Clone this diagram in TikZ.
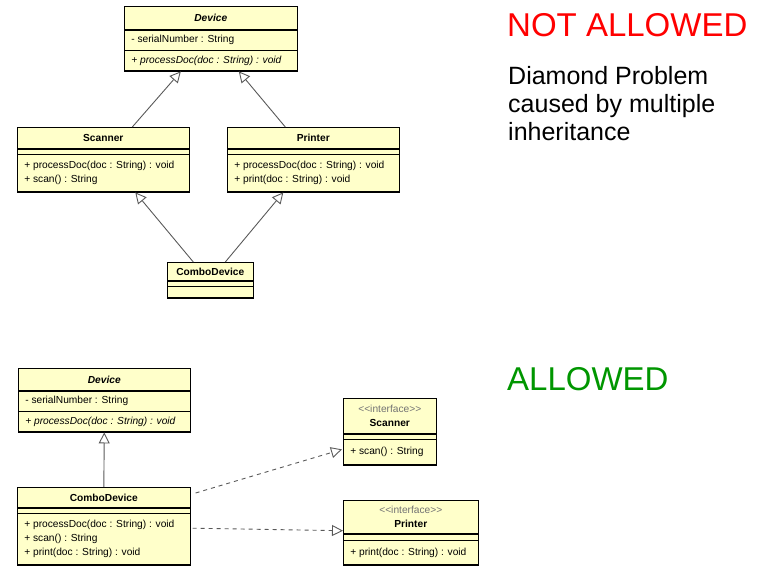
\documentclass[tikz,border=0pt]{standalone}
\usepackage{fontspec}
\setmainfont{Liberation Sans}
\usetikzlibrary{arrows.meta, shapes.multipart}

\definecolor{umlyellow}{RGB}{255,255,202}
\definecolor{okgreen}{RGB}{0,150,0}

\newcommand{\ctitle}[3]{\parbox[c][#2pt][c]{#1pt}{\centering\bfseries #3}}
\newcommand{\cbody}[3]{\parbox[c][#2pt][c]{#1pt}{\raggedright\leftskip=7pt #3}}
\newcommand{\stereo}[1]{<\kern0pt<#1>\kern0pt>}

\tikzset{
	umlclass/.style={rectangle split, rectangle split parts=3, draw=black!65, line width=0.6pt,
		fill=umlyellow, inner sep=0pt, anchor=north west, font=\fontsize{10.2}{14}\selectfont,
		postaction={draw=black, line width=1.5pt}},
	inherit/.style={-{Triangle[open, length=11pt, width=11pt]}, draw=black!65, line width=0.9pt},
	realize/.style={inherit, dash pattern=on 4pt off 4pt},
	bigtext/.style={anchor=base west, inner sep=0pt, align=left},
}

\begin{document}
\begin{tikzpicture}[x=1pt, y=-1pt]
			\useasboundingbox (0,0) rectangle (761,567);

			\node (devA)[umlclass] at (124,6) {\ctitle{173}{23}{\itshape Device}
				\nodepart{two}\cbody{173}{20}{- serialNumber : String}
				\nodepart{three}\cbody{173}{20}{\itshape + processDoc(doc : String) : void}};
			\node (scanA)[umlclass] at (17,127) {\ctitle{172}{21}{Scanner}
				\nodepart{two}\cbody{172}{5}{}
				\nodepart{three}\cbody{172}{37}{+ processDoc(doc : String) : void\\+ scan() : String}};
			\node (prtA)[umlclass] at (227,127) {\ctitle{172}{21}{Printer}
				\nodepart{two}\cbody{172}{5}{}
				\nodepart{three}\cbody{172}{37}{+ processDoc(doc : String) : void\\+ print(doc : String) : void}};
			\node (comboA)[umlclass] at (167,262) {\ctitle{86}{18}{ComboDevice}
				\nodepart{two}\cbody{86}{5}{}
				\nodepart{three}\cbody{86}{11}{}};

			\node (devB)[umlclass] at (18,368) {\ctitle{172}{22}{\itshape Device}
				\nodepart{two}\cbody{172}{20}{- serialNumber : String}
				\nodepart{three}\cbody{172}{20}{\itshape + processDoc(doc : String) : void}};
			\node (comboB)[umlclass] at (17,487) {\ctitle{173}{20}{ComboDevice}
				\nodepart{two}\cbody{173}{5}{}
				\nodepart{three}\cbody{173}{51}{+ processDoc(doc : String) : void\\+ scan() : String\\+ print(doc : String) : void}};
			\node (ifScan)[umlclass] at (343,398) {\ctitle{93}{35}{{\mdseries\color{black!55}\stereo{interface}}\\Scanner}
				\nodepart{two}\cbody{93}{5}{}
				\nodepart{three}\cbody{93}{25}{+ scan() : String}};
			\node (ifPrt)[umlclass] at (343,500) {\ctitle{135}{33}{{\mdseries\color{black!55}\stereo{interface}}\\Printer}
				\nodepart{two}\cbody{135}{6}{}
				\nodepart{three}\cbody{135}{24}{+ print(doc : String) : void}};

			\node (notok)[bigtext, text=red, font=\fontsize{33}{33}\selectfont] at (507,37) {NOT ALLOWED};
			\node (why)[bigtext, font=\fontsize{25}{28}\selectfont] at (508,141) {Diamond Problem\\caused by multiple\\inheritance};
			\node (ok)[bigtext, text=okgreen, font=\fontsize{33}{33}\selectfont] at (507,390) {ALLOWED};

			\draw[inherit] ([xshift=29pt]scanA.north) -- ([xshift=-30pt]devA.south);
			\draw[inherit] ([xshift=-28pt]prtA.north) -- ([xshift=28pt]devA.south);
			\draw[inherit] ([xshift=-17pt]comboA.north) -- ([xshift=32pt]scanA.south);
			\draw[inherit] ([xshift=15pt]comboA.north) -- ([xshift=-30pt]prtA.south);
			\draw[inherit] (comboB.north) -- (devB.south);
			\draw[realize] ([xshift=5pt, yshift=-6pt]comboB.north east) -- ([xshift=-1pt, yshift=16pt]ifScan.south west);
			\draw[realize] ([xshift=2pt, yshift=-2pt]comboB.east) -- ([yshift=2pt]ifPrt.west);
\end{tikzpicture}
\end{document}
